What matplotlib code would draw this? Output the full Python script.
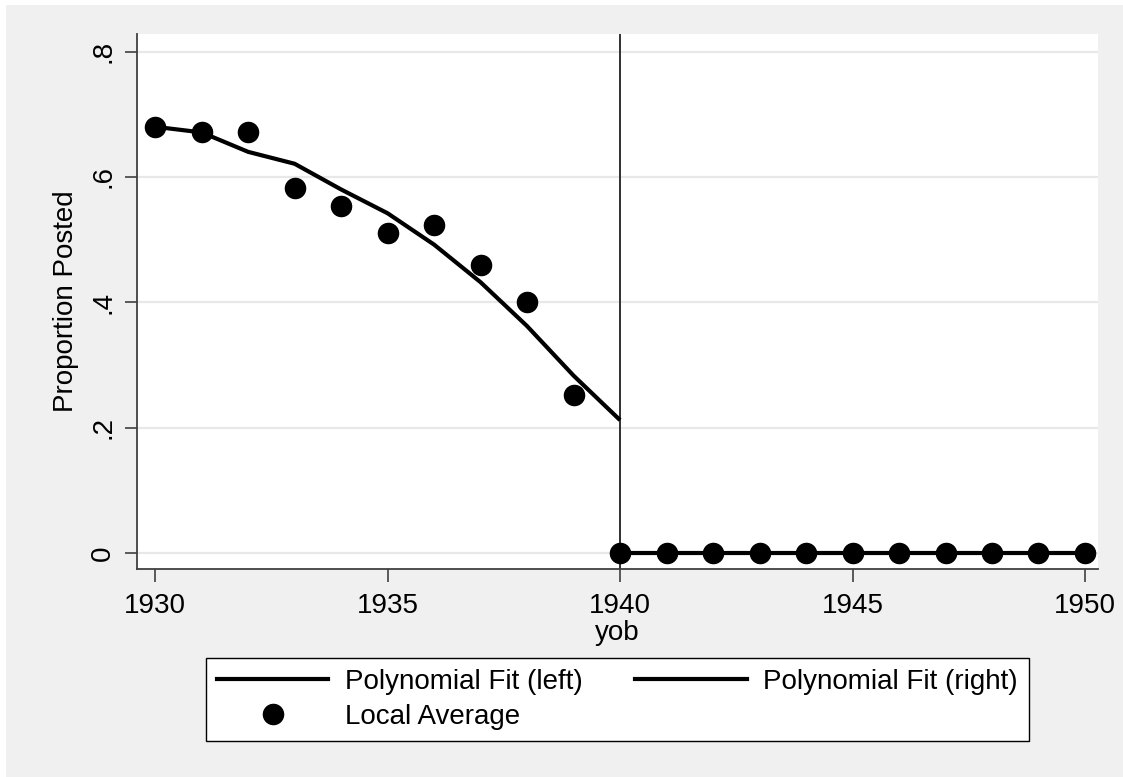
import matplotlib
matplotlib.use("Agg")
import matplotlib.pyplot as plt
from matplotlib.lines import Line2D
from matplotlib.patches import Rectangle

plt.rcParams['font.family'] = ['Liberation Sans', 'DejaVu Sans']

# ---- data ----
yob_left = [1930, 1931, 1932, 1933, 1934, 1935, 1936, 1937, 1938, 1939]
avg_left = [0.680, 0.672, 0.672, 0.583, 0.553, 0.511, 0.523, 0.460, 0.400, 0.252]
yob_right = [1940, 1941, 1942, 1943, 1944, 1945, 1946, 1947, 1948, 1949, 1950]
avg_right = [0.0, 0.0, 0.0, 0.0, 0.0, 0.0, 0.0, 0.0, 0.0, 0.0, 0.0]

fit_left_x = [1930, 1931, 1932, 1933, 1934, 1935, 1936, 1937, 1938, 1939, 1940]
fit_left_y = [0.680, 0.671, 0.640, 0.621, 0.580, 0.542, 0.492, 0.432, 0.362, 0.283, 0.212]
fit_right_x = [1940, 1941, 1942, 1943, 1944, 1945, 1946, 1947, 1948, 1949, 1950]
fit_right_y = [0.0, 0.0, 0.0, 0.0, 0.0, 0.0, 0.0, 0.0, 0.0, 0.0, 0.0]

cutoff = 1940
x_ticks = [1930, 1935, 1940, 1945, 1950]
y_ticks = [0, 0.2, 0.4, 0.6, 0.8]
y_ticklabels = ["0", ".2", ".4", ".6", ".8"]

W, H = 1123, 777
fig = plt.figure(figsize=(W / 100, H / 100), dpi=100, facecolor='white')
# gray graph region
fig.patches.append(Rectangle((6 / W, 0), 1 - 6 / W, 1 - 5 / H, transform=fig.transFigure,
                             facecolor='#f0f0f0', edgecolor='none', zorder=-10))

ax = fig.add_axes([137 / W, 1 - 569 / H, (1098 - 137) / W, (569 - 34) / H])
ax.set_facecolor('white')

ax.set_xlim(1929.61, 1950.28)
ax.set_ylim(-0.0255, 0.828)

for yt in y_ticks:
    ax.axhline(yt, color='#e8e8e8', lw=1.6, zorder=0)

ax.axvline(cutoff, color='#303030', lw=1.4, zorder=1)

ax.plot(fit_left_x, fit_left_y, color='black', lw=3.0, zorder=2, solid_capstyle='butt')
ax.plot(fit_right_x, fit_right_y, color='black', lw=3.0, zorder=2, solid_capstyle='butt')
ax.plot(yob_left, avg_left, 'o', color='black', ms=14.5, zorder=3, linestyle='none')
ax.plot(yob_right, avg_right, 'o', color='black', ms=14.5, zorder=3, linestyle='none')

ax.set_xticks(x_ticks)
ax.set_xticklabels([str(v) for v in x_ticks])
ax.set_yticks(y_ticks)
ax.set_yticklabels(y_ticklabels, rotation=90, va='center')

for s in ['top', 'right']:
    ax.spines[s].set_visible(False)
for s in ['left', 'bottom']:
    ax.spines[s].set_color('#404040')
    ax.spines[s].set_linewidth(1.3)

ax.tick_params(axis='both', direction='out', length=9, width=1.2, color='#404040',
               labelsize=20, labelcolor='black')
ax.tick_params(axis='x', pad=8)
ax.tick_params(axis='y', pad=6)

ax.set_xlabel('yob', fontsize=20, labelpad=1)
ax.set_ylabel('Proportion Posted', fontsize=20, labelpad=8)

h_left = Line2D([], [], color='black', lw=3.0)
h_right = Line2D([], [], color='black', lw=3.0)
h_avg = Line2D([], [], color='black', marker='o', ms=14.5, linestyle='none')

leg = fig.legend([h_left, h_avg, h_right],
                 ['Polynomial Fit (left)', 'Local Average', 'Polynomial Fit (right)'],
                 ncol=2, loc='center',
                 bbox_to_anchor=(617.5 / W, 1 - 699.5 / H),
                 fontsize=20, frameon=True, fancybox=False, framealpha=1,
                 edgecolor='black', facecolor='white',
                 handlelength=4.0, handletextpad=0.6, columnspacing=1.9,
                 labelspacing=0.32, borderpad=0.4, borderaxespad=0)
leg.get_frame().set_linewidth(1.0)

fig.savefig('out.png', dpi=100, facecolor=fig.get_facecolor())
